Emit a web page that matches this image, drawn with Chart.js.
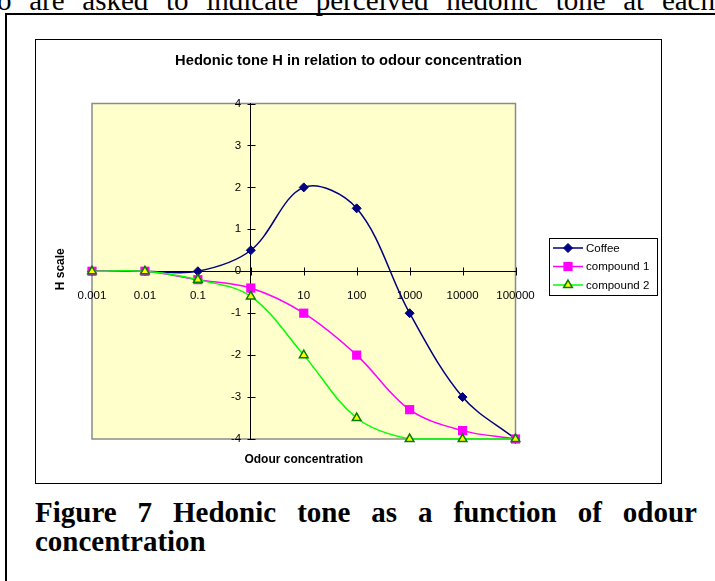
<!DOCTYPE html>
<html>
<head>
<meta charset="utf-8">
<script src="https://cdn.jsdelivr.net/npm/chart.js@4.4.1/dist/chart.umd.min.js"></script>
<style>
  html, body { margin: 0; padding: 0; background: #fff; }
  body { width: 715px; height: 581px; overflow: hidden; position: relative; }
  .frame { position: absolute; left: 5px; top: 13px; width: 800px; height: 700px;
           border-left: 2px solid #000; border-top: 2px solid #000; }
  .lead { position: absolute; left: -3px; width: 718px; top: -16px; height: 29px; line-height: 29px;
          font: 29px 'Liberation Serif', 'Times New Roman', serif; color: #000;
          display: flex; justify-content: space-between; white-space: nowrap; }
  .box { position: absolute; left: 35px; top: 39px; width: 625px; height: 443px;
         border: 1px solid #000; background: #fff; }
  .box canvas { position: absolute; left: 0; top: 0; }
  .cap { position: absolute; left: 35px; width: 662px; height: 29px; line-height: 29px;
         font: bold 29px 'Liberation Serif', 'Times New Roman', serif; color: #000; white-space: nowrap; }
  .cap1 { top: 496px; display: flex; justify-content: space-between; }
  .cap2 { top: 525px; }
</style>
</head>
<body>
<div class="lead"><span>o</span><span>are</span><span>asked</span><span>to</span><span>indicate</span><span>perceived</span><span>hedonic</span><span>tone</span><span>at</span><span>each</span></div>
<div class="frame"></div>
<div class="box"><canvas id="c" width="625" height="443"></canvas></div>
<div class="cap cap1"><span>Figure</span><span>7</span><span>Hedonic</span><span>tone</span><span>as</span><span>a</span><span>function</span><span>of</span><span>odour</span></div>
<div class="cap cap2">concentration</div>

<script>
// Odour concentration categories (log steps) and hedonic tone per series
const categories = ['0.001', '0.01', '0.1', '1', '10', '100', '1000', '10000', '100000'];
const coffee     = [0, 0, 0, 0.5, 2, 1.5, -1, -3, -4];
const compound1  = [0, 0, -0.2, -0.4, -1, -2, -3.3, -3.8, -4];
const compound2  = [0, 0, -0.2, -0.6, -2, -3.5, -4, -4, -4];
const seriesNames = ['Coffee', 'compound 1', 'compound 2'];
const yTicks = [-4, -3, -2, -1, 0, 1, 2, 3, 4];

const chartTitle = 'Hedonic tone H in relation to odour concentration';
const xTitle = 'Odour concentration';
const yTitle = 'H scale';
const yAxisCategory = '1';   // the value axis crosses the category axis here

const SANS = "'Liberation Sans', Arial, Helvetica, sans-serif";
Chart.defaults.color = '#000';
Chart.defaults.font.family = SANS;

// Yellow plot area with a grey frame
const plotArea = {
  id: 'plotArea',
  beforeDraw(chart) {
    const { ctx, chartArea: a } = chart;
    ctx.save();
    ctx.fillStyle = '#FFFFCC';
    ctx.fillRect(a.left, a.top, a.right - a.left, a.bottom - a.top);
    ctx.strokeStyle = '#8a8a8a';
    ctx.lineWidth = 1.5;
    ctx.strokeRect(a.left, a.top, a.right - a.left, a.bottom - a.top);
    ctx.restore();
  }
};

// Tick marks that cross both axis lines
const crossTicks = {
  id: 'crossTicks',
  beforeDatasetsDraw(chart) {
    const { ctx, scales: { x, y } } = chart;
    const y0 = Math.round(y.getPixelForValue(0)) + 0.5;
    const x0 = Math.round(x.getPixelForValue(categories.indexOf(yAxisCategory))) + 0.5;
    const len = 4;
    ctx.save();
    ctx.strokeStyle = '#000';
    ctx.lineWidth = 1;
    ctx.beginPath();
    x.ticks.forEach((t, i) => {
      const px = Math.round(x.getPixelForTick(i)) + 0.5;
      ctx.moveTo(px, y0 - len); ctx.lineTo(px, y0 + len);
    });
    y.ticks.forEach((t, i) => {
      const py = Math.round(y.getPixelForTick(i)) + 0.5;
      ctx.moveTo(x0 - len, py); ctx.lineTo(x0 + len, py);
    });
    ctx.stroke();
    ctx.restore();
  }
};

// Chart title, axis titles and a framed legend with line + marker samples
const annotations = {
  id: 'annotations',
  afterDraw(chart) {
    const { ctx, chartArea: a } = chart;
    ctx.save();
    ctx.fillStyle = '#000';
    ctx.textAlign = 'center';
    ctx.textBaseline = 'middle';
    ctx.font = 'bold 14.7px ' + SANS;
    ctx.fillText(chartTitle, chart.width / 2, 21);

    ctx.font = 'bold 12px ' + SANS;
    ctx.fillText(xTitle, (a.left + a.right) / 2, a.bottom + 21);
    ctx.save();
    ctx.translate(a.left - 31, (a.top + a.bottom) / 2 - 2);
    ctx.rotate(-Math.PI / 2);
    ctx.fillText(yTitle, 0, 0);
    ctx.restore();

    const sets = chart.data.datasets;
    ctx.font = '11.5px ' + SANS;
    const textW = Math.max(...sets.map(d => ctx.measureText(d.label).width));
    const rowH = 18.5, lineLen = 30;
    const w = Math.round(4 + lineLen + 3 + textW + 8);
    const h = Math.round(sets.length * rowH + 1);
    const left = chart.width - 4 - w;
    const top = Math.round(chart.height / 2 - h / 2 + 4.5);
    ctx.fillStyle = '#fff';
    ctx.fillRect(left, top, w, h);
    ctx.strokeStyle = '#000';
    ctx.lineWidth = 1;
    ctx.strokeRect(left + 0.5, top + 0.5, w, h);
    ctx.textAlign = 'left';
    sets.forEach((d, i) => {
      const cy = top + 10 + i * rowH;
      const x1 = left + 4;
      ctx.strokeStyle = d.borderColor;
      ctx.lineWidth = d.borderWidth;
      ctx.beginPath();
      ctx.moveTo(x1, cy); ctx.lineTo(x1 + lineLen, cy);
      ctx.stroke();
      ctx.fillStyle = d.pointBackgroundColor;
      ctx.strokeStyle = d.pointBorderColor;
      ctx.lineWidth = d.pointBorderWidth;
      Chart.helpers.drawPoint(ctx, {
        pointStyle: d.pointStyle, rotation: 0,
        radius: d.pointRadius, borderWidth: d.pointBorderWidth
      }, x1 + lineLen / 2, cy);
      ctx.fillStyle = '#000';
      ctx.fillText(d.label, x1 + lineLen + 3, cy + 0.5);
    });
    ctx.restore();
  }
};

const seriesValues = [coffee, compound1, compound2];
const seriesStyle = [
  { line: '#000080', fill: '#000080', edge: '#000080', shape: 'rectRot',  r: 4.5, bw: 1 },
  { line: '#FF00FF', fill: '#FF00FF', edge: '#FF00FF', shape: 'rect',     r: 6.5, bw: 0 },
  { line: '#00FF00', fill: '#FFFF00', edge: '#008000', shape: 'triangle', r: 5,   bw: 1.5 }
];

const datasets = seriesNames.map((name, i) => ({
  label: name,
  data: seriesValues[i],
  borderColor: seriesStyle[i].line,
  backgroundColor: seriesStyle[i].fill,
  borderWidth: 1.5,
  tension: 0.35,
  fill: false,
  pointStyle: seriesStyle[i].shape,
  pointRadius: seriesStyle[i].r,
  pointHoverRadius: seriesStyle[i].r,
  pointBackgroundColor: seriesStyle[i].fill,
  pointBorderColor: seriesStyle[i].edge,
  pointBorderWidth: seriesStyle[i].bw,
  clip: false,
  order: seriesNames.length - i
}));

new Chart(document.getElementById('c'), {
  type: 'line',
  data: { labels: categories, datasets },
  options: {
    responsive: false,
    animation: false,
    devicePixelRatio: 1,
    layout: { padding: { left: 56, right: 145.5, top: 63.5, bottom: 44 } },
    plugins: {
      legend: { display: false },
      tooltip: { enabled: false },
      title: { display: false }
    },
    scales: {
      x: {
        type: 'category',
        position: { y: 0 },
        offset: false,
        grid: { display: false },
        border: { display: true, color: '#000', width: 1 },
        ticks: { padding: 10, autoSkip: false, maxRotation: 0, color: '#000',
                 font: { size: 11.5, family: SANS } }
      },
      y: {
        type: 'linear',
        position: { x: categories.indexOf(yAxisCategory) },
        min: yTicks[0],
        max: yTicks[yTicks.length - 1],
        afterBuildTicks(scale) { scale.ticks = yTicks.map(v => ({ value: v })); },
        grid: { display: false },
        border: { display: true, color: '#000', width: 1 },
        ticks: { color: '#000', font: { size: 11.5, family: SANS },
                 callback: v => String(v) + '   ' }
      }
    }
  },
  plugins: [plotArea, crossTicks, annotations]
});
</script>
</body>
</html>
